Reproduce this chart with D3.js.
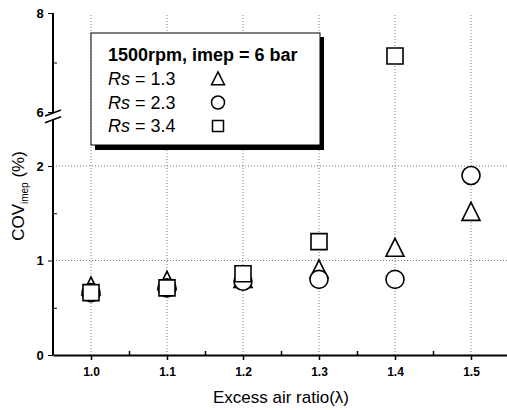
<!DOCTYPE html>
<html>
<head>
<meta charset="utf-8">
<script src="https://cdn.jsdelivr.net/npm/d3@7"></script>
<style>
  body { margin: 0; background: #fff; }
  text { font-family: Arial, "Liberation Sans", sans-serif; }
</style>
</head>
<body>
<div id="chart"></div>
<script>
// data
const lambda = [1.0, 1.1, 1.2, 1.3, 1.4, 1.5];
const rs13 = [0.72, 0.78, 0.80, 0.90, 1.13, 1.51];
const rs23 = [0.66, 0.71, 0.78, 0.80, 0.80, 1.90];
const rs34 = [0.66, 0.71, 0.86, 1.20, 7.13, null];
const xTicks = [1.0, 1.1, 1.2, 1.3, 1.4, 1.5];
const yLowTicks = [0, 1, 2];
const yHighTicks = [6, 8];
const legendTitle = "1500rpm, imep = 6 bar";
const legendRows = ["1.3", "2.3", "3.4"];

const W = 507, H = 410;
const svg = d3.select("#chart").append("svg")
    .attr("width", W).attr("height", H);

const left = 53, bottom = 355;

const x = d3.scaleLinear().domain([0.95, 1.55]).range([left, 509]);
const yLow = d3.scaleLinear().domain([0, 2.5]).range([bottom, 118.75]);
const yHigh = d3.scaleLinear().domain([6, 8]).range([112, 13]);
const yPos = v => v >= 6 ? yHigh(v) : yLow(v);

// grid
const grid = svg.append("g")
    .attr("stroke", "#555").attr("stroke-width", 0.8)
    .attr("stroke-dasharray", "1,2");
grid.selectAll(".gx").data(xTicks).enter().append("line")
    .attr("x1", d => x(d)).attr("x2", d => x(d))
    .attr("y1", bottom).attr("y2", yHigh(8));
grid.selectAll(".gy").data([1, 2]).enter().append("line")
    .attr("x1", left).attr("x2", W)
    .attr("y1", d => yLow(d)).attr("y2", d => yLow(d));

// x axis
const xAxis = svg.append("g")
    .attr("transform", `translate(0,${bottom})`)
    .call(d3.axisBottom(x).tickValues(xTicks).tickFormat(d3.format(".1f")).tickSize(5).tickSizeOuter(0));
xAxis.selectAll("text").attr("font-size", 12).attr("font-weight", 600).attr("dy", "1.1em");
xAxis.selectAll("line").attr("stroke-width", 1.5);
svg.append("g").attr("transform", `translate(0,${bottom})`)
    .call(d3.axisBottom(x).tickValues(d3.range(1.05, 1.55, 0.1)).tickFormat("").tickSize(-4).tickSizeOuter(0))
    .call(g => g.select(".domain").remove())
    .selectAll("line").attr("stroke-width", 1.5);

// y axis, lower part
const yAxL = svg.append("g")
    .attr("transform", `translate(${left},0)`)
    .call(d3.axisLeft(yLow).tickValues(yLowTicks).tickFormat(d3.format("d")).tickSize(5).tickSizeOuter(0));
yAxL.selectAll("text").attr("font-size", 13).attr("font-weight", 600).attr("dx", "-0.1em");
svg.append("g").attr("transform", `translate(${left},0)`)
    .call(d3.axisLeft(yLow).tickValues([0.5, 1.5]).tickFormat("").tickSize(-4).tickSizeOuter(0))
    .call(g => g.select(".domain").remove());
// y axis, upper part
const yAxH = svg.append("g")
    .attr("transform", `translate(${left},0)`)
    .call(d3.axisLeft(yHigh).tickValues(yHighTicks).tickFormat(d3.format("d")).tickSize(5).tickSizeOuter(0));
yAxH.selectAll("text").attr("font-size", 13).attr("font-weight", 600).attr("dx", "-0.1em");
svg.append("g").attr("transform", `translate(${left},0)`)
    .call(d3.axisLeft(yHigh).tickValues([7]).tickFormat("").tickSize(-4).tickSizeOuter(0))
    .call(g => g.select(".domain").remove());
svg.selectAll(".domain").attr("stroke-width", 2);
yAxL.select(".domain").attr("d", `M0,${yLow(0)}V${yLow(2.5) + 1}`);
yAxH.select(".domain").attr("d", `M0,${yHigh(8)}V${yHigh(6)}`);
// break marks
svg.append("g").attr("stroke", "#000").attr("stroke-width", 1.5)
    .selectAll("line").data([yHigh(6) + 1, yLow(2.5) + 1]).enter().append("line")
    .attr("x1", left - 8).attr("x2", left + 8)
    .attr("y1", d => d + 3).attr("y2", d => d - 3);

// axis titles
svg.append("text").attr("x", 281).attr("y", 403)
    .attr("text-anchor", "middle").attr("font-size", 17)
    .text("Excess air ratio(λ)");
const yt = svg.append("text")
    .attr("transform", "translate(24,196) rotate(-90)")
    .attr("text-anchor", "middle").attr("font-size", 17);
yt.append("tspan").text("COV");
yt.append("tspan").attr("font-size", 10).attr("dy", 4).text("imep");
yt.append("tspan").attr("dy", -4).text(" (%)");

// marker shapes
const tri = s => `M0,${-s * 0.55}L${s / 2},${s * 0.45}L${-s / 2},${s * 0.45}Z`;
const sq = s => `M${-s / 2},${-s / 2}h${s}v${s}h${-s}Z`;
const circ = s => d3.symbol(d3.symbolCircle, Math.PI * (s / 2) ** 2)();

const series = [
  { vals: rs13, shape: tri, size: 18 },
  { vals: rs23, shape: circ, size: 18 },
  { vals: rs34, shape: sq, size: 16 }
];
series.forEach(s => {
  svg.append("g").selectAll("path")
      .data(lambda.map((l, i) => [l, s.vals[i]]).filter(d => d[1] != null))
      .enter().append("path")
      .attr("d", s.shape(s.size))
      .attr("transform", d => `translate(${x(d[0])},${yPos(d[1])})`)
      .attr("fill", "#fff").attr("stroke", "#000").attr("stroke-width", 1.6);
});

// legend
const lg = svg.append("g");
lg.append("rect").attr("x", 95).attr("y", 37).attr("width", 229).attr("height", 113).attr("fill", "#000");
lg.append("rect").attr("x", 91).attr("y", 33).attr("width", 229).attr("height", 112)
    .attr("fill", "#fff").attr("stroke", "#000").attr("stroke-width", 1);
lg.append("text").attr("x", 108).attr("y", 61).attr("font-size", 18).attr("font-weight", "bold")
    .text(legendTitle);
const legShapes = [tri, circ, sq];
legendRows.forEach((r, i) => {
  const t = lg.append("text").attr("x", 108).attr("y", 85 + i * 23.5).attr("font-size", 18);
  t.append("tspan").attr("font-style", "italic").text("Rs");
  t.append("tspan").text(" = " + r);
  lg.append("path").attr("d", legShapes[i](i === 2 ? 11 : 13))
      .attr("transform", `translate(218,${79 + i * 23.5})`)
      .attr("fill", "#fff").attr("stroke", "#000").attr("stroke-width", 1.5);
});
</script>
</body>
</html>
